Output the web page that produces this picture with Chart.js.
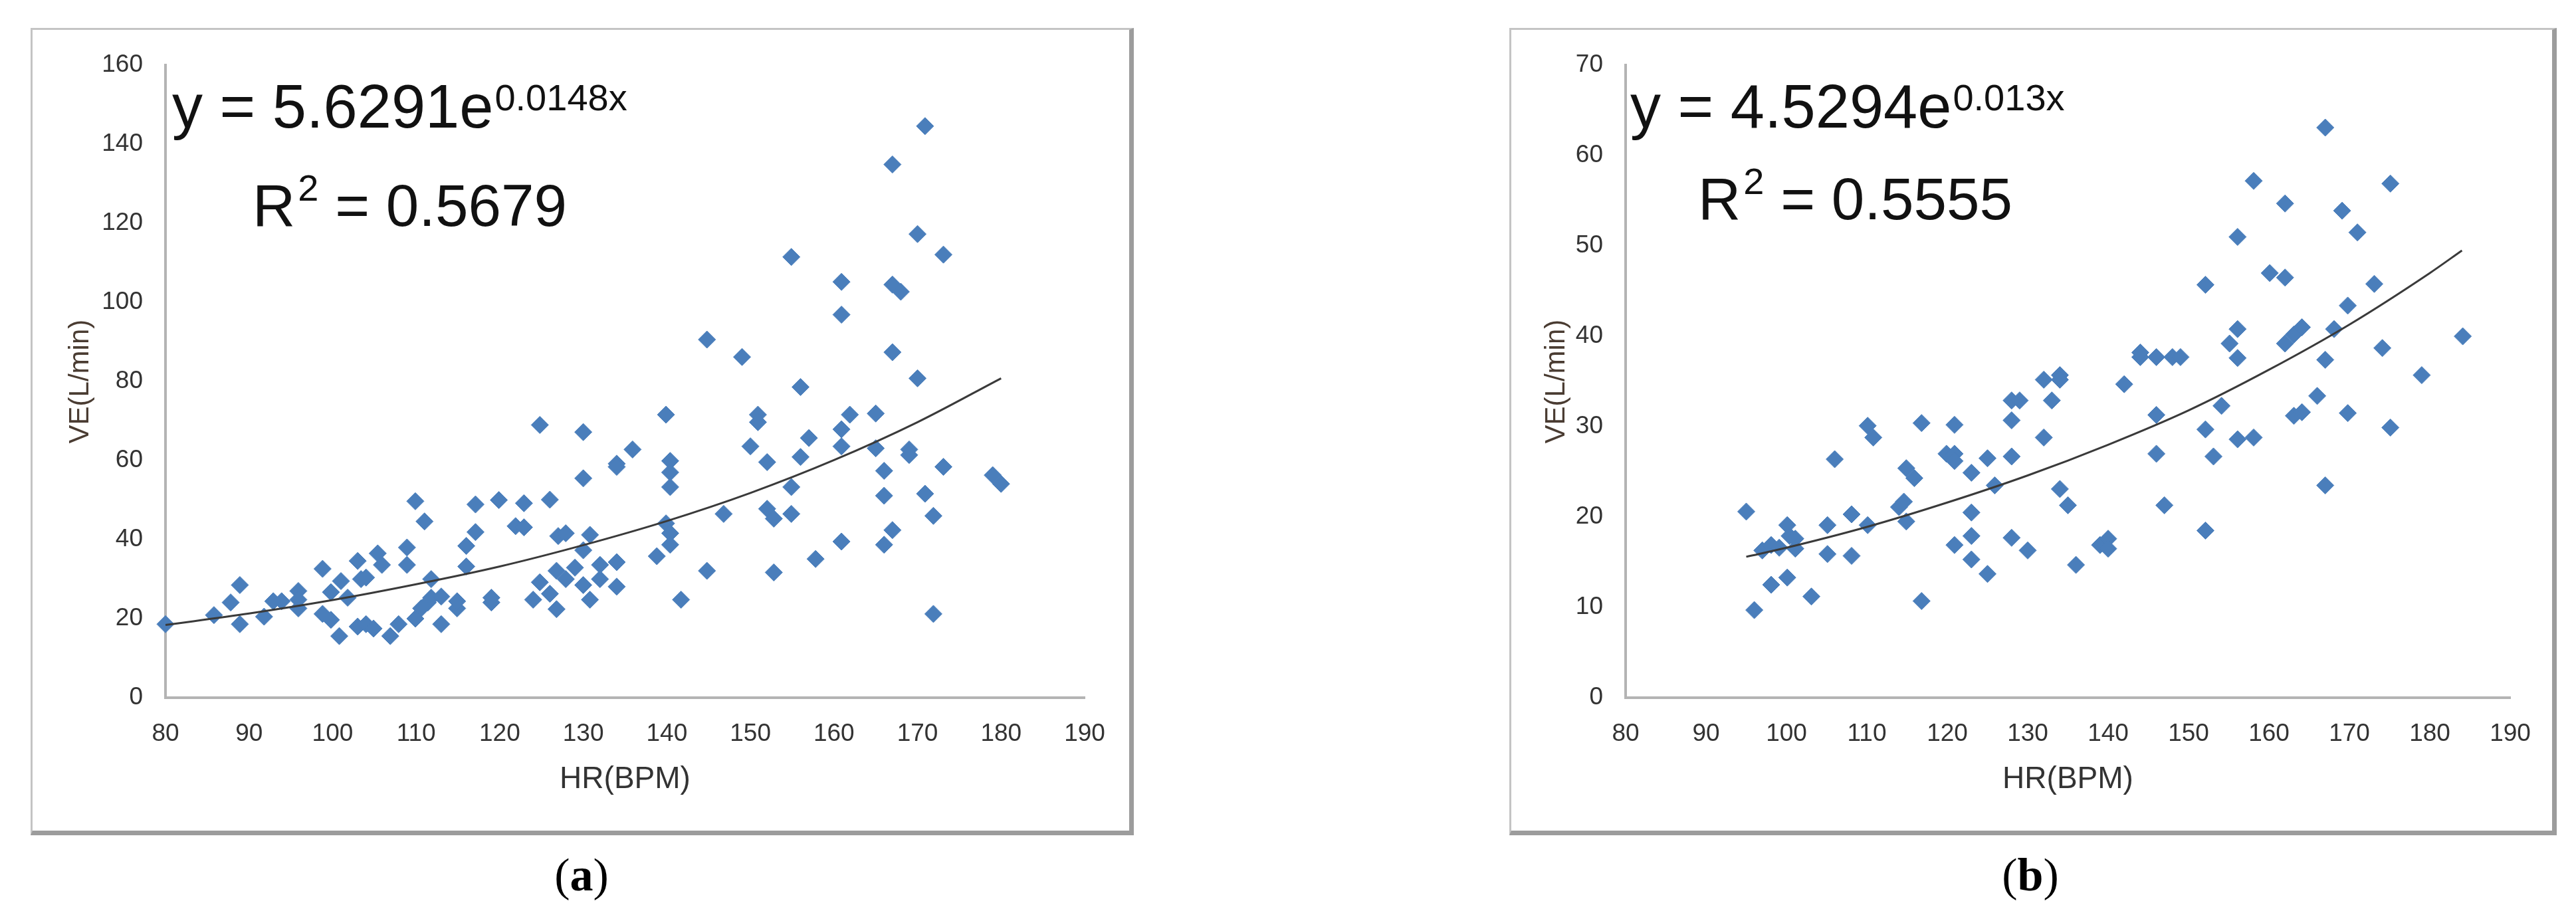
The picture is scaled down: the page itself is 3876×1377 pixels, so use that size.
<!DOCTYPE html>
<html>
<head>
<meta charset="utf-8">
<script src="https://cdn.jsdelivr.net/npm/chart.js@4.4.0/dist/chart.umd.min.js"></script>
<style>
  html, body { margin: 0; padding: 0; background: #fff; }
  body { width: 3876px; height: 1377px; position: relative; overflow: hidden; }
  .panel {
    position: absolute; box-sizing: border-box;
    border-left: 3px solid #c4c4c4; border-top: 3px solid #c4c4c4;
    border-right: 7px solid #9c9c9c; border-bottom: 7px solid #9c9c9c;
  }
  canvas { position: absolute; }
  .cap {
    position: absolute; font-family: "Liberation Serif", "Times New Roman", serif;
    font-size: 70px; line-height: 1; color: #000; transform: translateX(-50%);
  }
</style>
</head>
<body>
<div class="panel" style="left:46px;top:42px;width:1660px;height:1215px;"></div>
<div class="panel" style="left:2271px;top:42px;width:1576px;height:1215px;"></div>
<canvas id="chartA" width="1657" height="1211" style="left:46px;top:42px;width:1657px;height:1211px;"></canvas>
<canvas id="chartB" width="1574" height="1211" style="left:2271px;top:42px;width:1574px;height:1211px;"></canvas>
<div class="cap" style="left:875px;top:1282px;">(<b>a</b>)</div>
<div class="cap" style="left:3055px;top:1282px;">(<b>b</b>)</div>

<script>
// chart (a): HR vs VE
const leftHR = [80, 85.8, 87.8, 88.9, 88.9, 91.8, 92.9, 93.9, 95.9, 95.9, 95.9, 98.8, 98.8, 99.8, 99.8,
  100.8, 101, 101.8, 103, 103, 103.4, 104, 104, 104.9, 105.4, 105.9, 106.9, 107.9, 108.9, 108.9,
  109.9, 109.9, 110.6, 111, 111.4, 111.8, 111.8, 113, 113, 114.9, 114.9, 116, 116, 117.1, 117.1,
  119, 119, 119.9, 121.9, 122.9, 122.9, 124, 124.8, 124.8, 126, 126, 126.8, 126.8, 127, 127.9,
  127.9, 129, 130, 130, 130, 130, 130.8, 130.8, 132, 132, 134, 134, 134, 134, 135.9,
  138.8, 139.9, 139.9, 140.4, 140.4, 140.4, 140.4, 140.4, 141.7, 144.8, 144.8, 146.8, 149, 150, 150.9,
  150.9, 152, 152, 152.8, 152.8, 154.9, 154.9, 154.9, 156, 156, 157, 157.8, 160.9, 160.9, 160.9,
  160.9, 160.9, 161.9, 165, 165, 166, 166, 166, 167, 167, 167, 167, 168, 169, 169,
  170, 170, 170.9, 170.9, 171.9, 171.9, 173.1, 173.1, 179, 180];
const leftVE = [18.6, 20.9, 24.1, 28.5, 18.6, 20.5, 24.4, 24.4, 27.0, 22.6, 24.8, 32.6, 21.2, 19.7, 26.7,
  15.6, 29.5, 25.3, 34.6, 18.0, 30.0, 30.4, 18.6, 17.5, 36.5, 33.6, 15.6, 18.6, 38.0, 33.6,
  49.7, 20.0, 22.6, 44.6, 24.1, 30.0, 25.3, 25.6, 18.6, 22.6, 24.4, 33.2, 38.4, 41.9, 48.9,
  24.1, 25.3, 50.0, 43.4, 43.1, 49.2, 24.8, 69.0, 29.2, 50.1, 26.3, 22.4, 32.1, 40.9, 41.6,
  30.0, 32.9, 67.2, 55.5, 37.3, 28.5, 41.2, 24.8, 33.6, 30.0, 59.2, 58.4, 34.3, 28.1, 62.8,
  35.8, 71.6, 44.1, 41.6, 38.7, 59.9, 57.0, 53.3, 24.8, 90.6, 32.1, 46.5, 86.2, 63.6, 71.6,
  69.7, 59.6, 47.8, 45.3, 31.7, 111.5, 53.3, 46.5, 78.6, 60.9, 65.7, 35.1, 105.2, 96.9, 67.9,
  63.6, 39.5, 71.6, 71.9, 63.1, 57.4, 51.1, 38.7, 134.9, 104.5, 87.4, 42.4, 102.7, 62.8, 61.4,
  80.8, 117.3, 144.6, 51.6, 46.0, 21.2, 112.1, 58.4, 56.3, 54.1];
const leftTrendHR = [80, 90, 100, 110, 120, 130, 140, 150, 160, 170, 180];
const leftTrendVE = [18.4, 21.3, 24.7, 28.7, 33.2, 38.6, 44.7, 51.8, 60.1, 69.7, 80.8];
const leftEquation = ['y = 5.6291e', '0.0148x', 'R', '2', ' = 0.5679'];

// chart (b)
const rightHR = [95, 96, 97, 98.1, 98.1, 99.1, 100.1, 100.1, 100.4, 101.1, 101.1, 103.1, 105.1, 105.1, 106,
  108.1, 108.1, 110.1, 110.1, 110.8, 114, 114.6, 114.9, 114.9, 115.9, 116.8, 116.8, 119.9, 120.9, 120.9,
  120.9, 120.9, 123, 123, 123, 123, 125, 125, 125.9, 128, 128, 128, 128, 129, 130,
  132, 132, 133, 134, 134, 134, 135, 136, 139, 140, 140, 142, 144, 144, 146,
  146, 146, 147, 148, 149, 152.1, 152.1, 152.1, 153.1, 154.1, 155.1, 156.1, 156.1, 156.1, 156.1,
  158.1, 158.1, 160.1, 162, 162, 162, 163.1, 163.1, 164.1, 164.1, 166, 167, 167, 167, 168.1,
  169.1, 169.8, 169.8, 171, 173.1, 174.1, 175.1, 175.1, 179, 184.1];
const rightVE = [20.6, 9.7, 16.3, 16.9, 12.5, 16.6, 19.1, 13.3, 17.9, 17.6, 16.5, 11.2, 19.1, 15.9, 26.4,
  20.3, 15.7, 19.1, 30.1, 28.8, 21.1, 21.7, 25.4, 19.5, 24.3, 30.4, 10.7, 27.0, 30.2, 27.0,
  26.2, 16.9, 24.9, 20.5, 17.9, 15.3, 26.5, 13.7, 23.5, 30.7, 32.9, 26.7, 17.7, 32.9, 16.3,
  35.2, 28.8, 32.9, 35.7, 35.2, 23.1, 21.3, 14.7, 16.9, 17.6, 16.5, 34.7, 37.7, 38.2, 37.7,
  31.3, 27.0, 21.3, 37.7, 37.7, 45.7, 29.7, 18.5, 26.7, 32.3, 39.2, 51.0, 40.8, 37.6, 28.6,
  57.2, 28.8, 47.0, 54.7, 46.5, 39.2, 40.2, 31.2, 41.0, 31.6, 33.4, 63.1, 37.4, 23.5, 40.8,
  53.9, 43.4, 31.5, 51.5, 45.8, 38.7, 56.9, 29.9, 35.7, 40.0];
const rightTrendHR = [95, 100, 110, 120, 130, 140, 150, 160, 170, 180, 184];
const rightTrendVE = [15.6, 16.6, 18.9, 21.6, 24.6, 28.0, 31.8, 36.3, 41.3, 47.0, 49.5];
const rightEquation = ['y = 4.5294e', '0.013x', 'R', '2', ' = 0.5555'];

const xRange = [80, 190, 10];
const leftYRange = [0, 160, 20];
const rightYRange = [0, 70, 10];

const tickFont = { family: '"Liberation Sans Narrow", "Liberation Sans", sans-serif', size: 37 };
const tickColor = '#333333';
const axisLine = { display: true, color: '#b4b4b4', width: 4 };

const toPoints = (xs, ys) => xs.map((x, i) => ({ x: x, y: ys[i] }));

// draws the trend equation as text on top of the plot
const equationPlugin = {
  id: 'equation',
  afterDraw(chart, args, opts) {
    const ctx = chart.ctx;
    const t = opts.text;
    const big = '92px "Liberation Sans", Arial, sans-serif';
    const mid = '89px "Liberation Sans", Arial, sans-serif';
    const small = '56px "Liberation Sans", Arial, sans-serif';
    ctx.save();
    ctx.fillStyle = '#111';
    ctx.textBaseline = 'alphabetic';
    ctx.textAlign = 'left';
    ctx.font = big;
    ctx.fillText(t[0], opts.x1, opts.y1);
    let x = opts.x1 + ctx.measureText(t[0]).width;
    ctx.font = small;
    ctx.fillText(t[1], x + 2, opts.y1 - 26);
    ctx.font = mid;
    ctx.fillText(t[2], opts.x2, opts.y2);
    x = opts.x2 + ctx.measureText(t[2]).width;
    ctx.font = small;
    ctx.fillText(t[3], x + 4, opts.y2 - 38);
    x += ctx.measureText(t[3]).width + 4;
    ctx.font = mid;
    ctx.fillText(t[4], x, opts.y2);
    ctx.restore();
  }
};

function buildChart(id, cfg) {
  const ctx = document.getElementById(id).getContext('2d');
  return new Chart(ctx, {
    type: 'scatter',
    data: {
      datasets: [
        {
          type: 'line',
          data: toPoints(cfg.trendHR, cfg.trendVE),
          borderColor: '#3a3a3a',
          borderWidth: 3,
          pointRadius: 0,
          fill: false,
          cubicInterpolationMode: 'monotone',
          clip: false
        },
        {
          data: toPoints(cfg.hr, cfg.ve),
          pointStyle: 'rectRot',
          pointRadius: 13,
          backgroundColor: '#4a7ebb',
          borderColor: '#4a7ebb',
          borderWidth: 1,
          clip: false
        }
      ]
    },
    options: {
      responsive: false,
      animation: false,
      devicePixelRatio: 1,
      layout: { padding: { top: 45, right: cfg.padRight, left: 0, bottom: 0 } },
      plugins: {
        legend: { display: false },
        tooltip: { enabled: false },
        equation: cfg.eq
      },
      scales: {
        x: {
          type: 'linear',
          min: xRange[0], max: xRange[1],
          ticks: { stepSize: xRange[2], padding: 33, color: tickColor, font: tickFont },
          grid: { display: false, drawTicks: false },
          border: axisLine,
          title: {
            display: true, text: 'HR(BPM)', color: '#333333',
            font: { family: '"Liberation Sans Narrow", "Liberation Sans", sans-serif', size: 46 },
            padding: { top: 0, bottom: 52 }
          },
          afterFit: s => { s.height = 203; }
        },
        y: {
          min: cfg.yRange[0], max: cfg.yRange[1],
          ticks: { stepSize: cfg.yRange[2], padding: 34, color: tickColor, font: tickFont },
          grid: { display: false, drawTicks: false },
          border: axisLine,
          title: {
            display: true, text: 'VE(L/min)', color: '#4a3c32',
            font: { family: '"Liberation Sans", Arial, sans-serif', size: 42 },
            padding: { top: cfg.yTitlePad, bottom: 0 }
          },
          afterFit: s => { s.width = cfg.yWidth; }
        }
      }
    },
    plugins: [equationPlugin]
  });
}

buildChart('chartA', {
  hr: leftHR, ve: leftVE, trendHR: leftTrendHR, trendVE: leftTrendVE,
  yRange: leftYRange, yWidth: 203, padRight: 71, yTitlePad: 50,
  eq: { text: leftEquation, x1: 213, y1: 150, x2: 334, y2: 298 }
});

buildChart('chartB', {
  hr: rightHR, ve: rightVE, trendHR: rightTrendHR, trendVE: rightTrendVE,
  yRange: rightYRange, yWidth: 175, padRight: 68, yTitlePad: 46,
  eq: { text: rightEquation, x1: 182, y1: 150, x2: 284, y2: 288 }
});
</script>
</body>
</html>
